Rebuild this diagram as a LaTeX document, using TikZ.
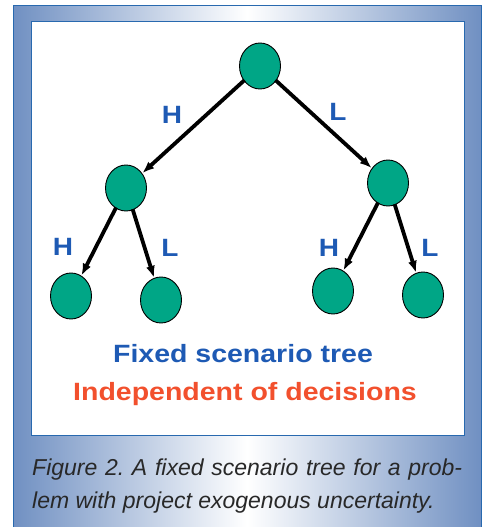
\documentclass[tikz,border=0pt]{standalone}
\usepackage{fontspec}
\setmainfont{Liberation Sans}
\usetikzlibrary{shapes.geometric,arrows.meta}
\definecolor{frameblue}{RGB}{112,144,194}
\definecolor{frameline}{RGB}{40,105,175}
\definecolor{nodegreen}{RGB}{0,166,134}
\definecolor{labelblue}{RGB}{30,90,180}
\definecolor{titlered}{RGB}{242,80,45}
\definecolor{captiongray}{RGB}{40,40,40}
\tikzset{
  treenode/.style={ellipse, draw=black, line width=0.9pt, fill=nodegreen,
    minimum width=41pt, minimum height=46pt, inner sep=0pt},
  branch/.style={line width=3.8pt, draw=black,
    -{Latex[length=12pt,width=9pt]}, shorten <=-1pt},
  branchlabel/.style={text=labelblue, font=\fontsize{25}{25}\selectfont\bfseries,
    anchor=base, inner sep=0pt, xscale=1.12},
  headline/.style={font=\fontsize{25}{25}\selectfont\bfseries,
    anchor=base, inner sep=0pt, xscale=1.14},
  captionline/.style={text=captiongray, font=\fontsize{23}{23}\selectfont\itshape\frenchspacing,
    anchor=base west, inner sep=0pt}
}
\begin{document}
\begin{tikzpicture}[x=1pt,y=-1pt]
  \useasboundingbox (0,0) rectangle (484,527);
  % shaded frame
  \shade[left color=frameblue, right color=frameblue, middle color=white]
    (13,6) rectangle (481,530);
  \draw[frameline, line width=1pt] (13,530) -- (13,6) -- (481,6) -- (481,530);
  % white panel
  \fill[white] (31,22) rectangle (464,435);
  \draw[frameline, line width=1pt] (31,22) rectangle (464,435);

  % scenario tree
  \node[treenode] (root) at (260,66) {};
  \node[treenode] (h)  at (126,188) {};
  \node[treenode] (l)  at (388,183) {};
  \node[treenode] (hh) at (71,296) {};
  \node[treenode] (hl) at (161,300) {};
  \node[treenode] (lh) at (333,291) {};
  \node[treenode] (ll) at (423,295) {};

  \draw[branch] (root) -- (h);
  \draw[branch] (root) -- (l);
  \draw[branch] (h) -- (hh);
  \draw[branch] (h) -- (hl);
  \draw[branch] (l) -- (lh);
  \draw[branch] (l) -- (ll);

  \node[branchlabel] (lab1) at (172,123) {H};
  \node[branchlabel] (lab2) at (338,120) {L};
  \node[branchlabel] (lab3) at (63,255) {H};
  \node[branchlabel] (lab4) at (170,256) {L};
  \node[branchlabel] (lab5) at (329,256) {H};
  \node[branchlabel] (lab6) at (430,256) {L};

  \node[headline, text=labelblue] (fixed) at (243,362) {Fixed scenario tree};
  \node[headline, text=titlered] (indep) at (245,400) {Independent of decisions};

  % caption
  \node[captionline] (cap1) at (32,475)
    {\makebox[430pt][s]{Figure 2. A fixed scenario tree for a prob-}};
  \node[captionline] (cap2) at (32,508) {lem with project exogenous uncertainty.};
\end{tikzpicture}
\end{document}
